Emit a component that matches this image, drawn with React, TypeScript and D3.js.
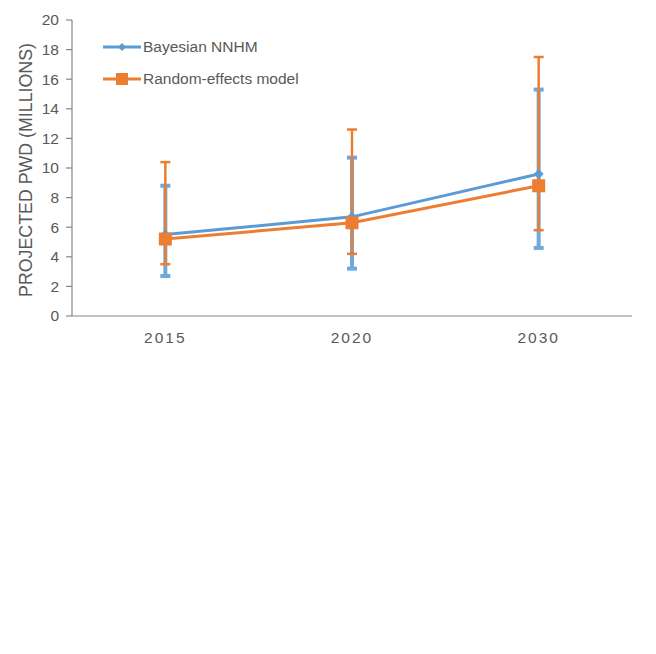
import React from "react";
import * as d3 from "d3";

const categories = ["2015", "2020", "2030"];
const bayesValues = [5.5, 6.7, 9.6];
const bayesLow = [2.7, 3.2, 4.6];
const bayesHigh = [8.8, 10.7, 15.3];
const reValues = [5.2, 6.3, 8.8];
const reLow = [3.5, 4.2, 5.8];
const reHigh = [10.4, 12.6, 17.5];
const yTicks = [0, 2, 4, 6, 8, 10, 12, 14, 16, 18, 20];
const seriesNames = ["Bayesian NNHM", "Random-effects model"];

const BLUE = "#5B9BD5";
const BLUE_ERR = "#6FA8DC";
const ORANGE = "#ED7D31";
const AXIS = "#868686";
const TEXT = "#595959";
const FONT = "'Liberation Sans', Arial, sans-serif";

export default function App() {
  const W = 656, H = 654;
  const left = 72, right = 632, top = 20, bottom = 316;
  const x = d3.scaleBand().domain(categories).range([left, right]);
  const cx = (c: string) => (x(c) as number) + x.bandwidth() / 2;
  const y = d3.scaleLinear().domain([0, 20]).range([bottom, top]);
  const line = d3.line<number>().x((_, i) => cx(categories[i])).y((v) => y(v));

  const diamond = (px: number, py: number, r: number) =>
    `M${px},${py - r}L${px + r},${py}L${px},${py + r}L${px - r},${py}Z`;

  return (
    <svg width={W} height={H} style={{ position: "absolute", left: 0, top: 0, background: "#fff" }}>
      {/* y axis */}
      <line x1={left} x2={left} y1={top} y2={bottom} stroke={AXIS} strokeWidth={1.2} />
      {yTicks.map((t) => (
        <g key={t}>
          <line x1={left - 6} x2={left} y1={y(t)} y2={y(t)} stroke={AXIS} strokeWidth={1.2} />
          <text x={left - 13} y={y(t)} dy="0.35em" textAnchor="end" fontFamily={FONT} fontSize={15.5} fill={TEXT}>
            {t}
          </text>
        </g>
      ))}
      {/* x axis */}
      <line x1={left} x2={right} y1={bottom} y2={bottom} stroke={AXIS} strokeWidth={1.2} />
      {categories.map((c) => (
        <text key={c} x={cx(c)} y={bottom + 27} textAnchor="middle" fontFamily={FONT} fontSize={15.5} fill={TEXT} letterSpacing={2}>
          {c}
        </text>
      ))}
      <text
        transform={`translate(32,170) rotate(-90)`}
        textAnchor="middle"
        fontFamily={FONT}
        fontSize={17.8}
        fill={TEXT}
      >
        PROJECTED PWD (MILLIONS)
      </text>

      {/* blue error bars */}
      {categories.map((c, i) => (
        <g key={"be" + c}>
          <line x1={cx(c)} x2={cx(c)} y1={y(bayesLow[i])} y2={y(bayesHigh[i])} stroke={BLUE_ERR} strokeWidth={4} />
          <line x1={cx(c) - 5} x2={cx(c) + 5} y1={y(bayesLow[i])} y2={y(bayesLow[i])} stroke={BLUE_ERR} strokeWidth={4} />
          <line x1={cx(c) - 5} x2={cx(c) + 5} y1={y(bayesHigh[i])} y2={y(bayesHigh[i])} stroke={BLUE_ERR} strokeWidth={4} />
        </g>
      ))}
      {/* orange error bars */}
      {categories.map((c, i) => (
        <g key={"oe" + c}>
          <line x1={cx(c)} x2={cx(c)} y1={y(reLow[i])} y2={y(reHigh[i])} stroke={ORANGE} strokeWidth={2.5} />
          <line x1={cx(c) - 5} x2={cx(c) + 5} y1={y(reLow[i])} y2={y(reLow[i])} stroke={ORANGE} strokeWidth={2.5} />
          <line x1={cx(c) - 5} x2={cx(c) + 5} y1={y(reHigh[i])} y2={y(reHigh[i])} stroke={ORANGE} strokeWidth={2.5} />
        </g>
      ))}

      {/* lines */}
      <path d={line(bayesValues) as string} fill="none" stroke={BLUE} strokeWidth={3} />
      <path d={line(reValues) as string} fill="none" stroke={ORANGE} strokeWidth={3} />
      {bayesValues.map((v, i) => (
        <path key={"bm" + i} d={diamond(cx(categories[i]), y(v), 5)} fill={BLUE} />
      ))}
      {reValues.map((v, i) => (
        <rect key={"rm" + i} x={cx(categories[i]) - 6.5} y={y(v) - 6.5} width={13} height={13} fill={ORANGE} />
      ))}

      {/* legend */}
      <line x1={103} x2={141} y1={47} y2={47} stroke={BLUE} strokeWidth={3} />
      <path d={diamond(122, 47, 4)} fill={BLUE} />
      <text x={143} y={47} dy="0.35em" fontFamily={FONT} fontSize={15.5} fill={TEXT}>
        {seriesNames[0]}
      </text>
      <line x1={103} x2={141} y1={79} y2={79} stroke={ORANGE} strokeWidth={3} />
      <rect x={116} y={73} width={12} height={12} fill={ORANGE} />
      <text x={143} y={79} dy="0.35em" fontFamily={FONT} fontSize={15.5} fill={TEXT}>
        {seriesNames[1]}
      </text>
    </svg>
  );
}
